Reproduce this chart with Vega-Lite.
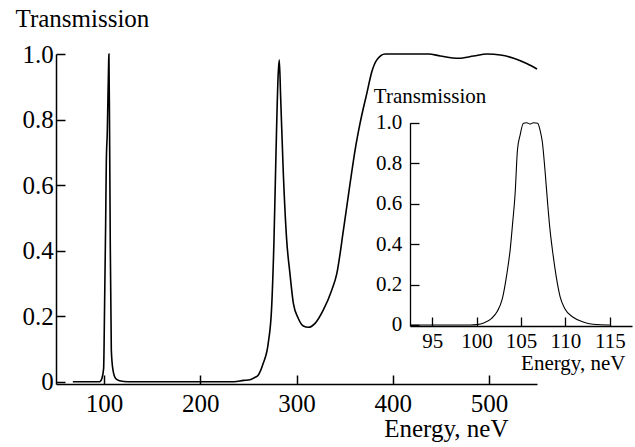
{
  "$schema": "https://vega.github.io/schema/vega-lite/v6.json",
  "width": 481,
  "height": 330,
  "autosize": {"type": "none"},
  "padding": {"left": 56, "top": 54, "right": 98, "bottom": 63},
  "background": "white",
  "config": {
    "view": {"stroke": null},
    "font": "Liberation Serif",
    "axis": {"grid": false, "domainColor": "black", "tickColor": "black", "labelColor": "black", "titleColor": "black", "labelFont": "Liberation Serif", "titleFont": "Liberation Serif", "titleFontWeight": "normal"}
  },
  "datasets": {
    "main": [
      {"E": 67.5, "T": 0.0}, {"E": 95.3, "T": 0.0}, {"E": 97.7, "T": 0.01}, {"E": 99.5, "T": 0.04},
      {"E": 100.5, "T": 0.23}, {"E": 101.6, "T": 0.48}, {"E": 102.3, "T": 0.67}, {"E": 103.3, "T": 0.76},
      {"E": 104.7, "T": 0.97}, {"E": 105.0, "T": 1.0}, {"E": 105.7, "T": 0.76}, {"E": 106.4, "T": 0.43},
      {"E": 107.5, "T": 0.097}, {"E": 109.2, "T": 0.036}, {"E": 112.0, "T": 0.01}, {"E": 116.0, "T": 0.003},
      {"E": 125.0, "T": 0.0}, {"E": 235.0, "T": 0.0}, {"E": 245.0, "T": 0.004}, {"E": 251.6, "T": 0.006},
      {"E": 256.0, "T": 0.012}, {"E": 260.2, "T": 0.02}, {"E": 265.4, "T": 0.056}, {"E": 270.6, "T": 0.117},
      {"E": 274.2, "T": 0.229}, {"E": 276.6, "T": 0.432}, {"E": 278.6, "T": 0.687}, {"E": 281.0, "T": 0.94},
      {"E": 282.1, "T": 0.982}, {"E": 283.5, "T": 0.87}, {"E": 286.3, "T": 0.636}, {"E": 289.8, "T": 0.432},
      {"E": 293.2, "T": 0.33}, {"E": 296.7, "T": 0.24}, {"E": 301.9, "T": 0.193}, {"E": 307.1, "T": 0.17},
      {"E": 312.3, "T": 0.166}, {"E": 319.3, "T": 0.178}, {"E": 327.9, "T": 0.219}, {"E": 336.7, "T": 0.28},
      {"E": 341.9, "T": 0.33}, {"E": 348.8, "T": 0.463}, {"E": 355.7, "T": 0.605}, {"E": 360.9, "T": 0.707},
      {"E": 366.1, "T": 0.789}, {"E": 373.1, "T": 0.88}, {"E": 378.3, "T": 0.946}, {"E": 383.5, "T": 0.982},
      {"E": 392.2, "T": 1.0}, {"E": 414.8, "T": 1.0}, {"E": 437.3, "T": 1.0}, {"E": 449.5, "T": 0.994},
      {"E": 468.5, "T": 0.987}, {"E": 484.2, "T": 0.994}, {"E": 498.1, "T": 1.0}, {"E": 512.0, "T": 0.997},
      {"E": 525.8, "T": 0.987}, {"E": 539.8, "T": 0.97}, {"E": 550.0, "T": 0.954}
    ],
    "inset": [
      {"E": 92.6, "T": 0.0}, {"E": 99.3, "T": 0.0}, {"E": 100.0, "T": 0.002}, {"E": 100.8, "T": 0.01},
      {"E": 101.7, "T": 0.033}, {"E": 102.3, "T": 0.065}, {"E": 102.9, "T": 0.13}, {"E": 103.4, "T": 0.25},
      {"E": 103.8, "T": 0.38}, {"E": 104.05, "T": 0.5}, {"E": 104.34, "T": 0.651}, {"E": 104.6, "T": 0.865},
      {"E": 104.9, "T": 0.939}, {"E": 105.27, "T": 0.997}, {"E": 105.65, "T": 1.0}, {"E": 106.02, "T": 0.993},
      {"E": 106.4, "T": 1.0}, {"E": 106.88, "T": 0.997}, {"E": 107.14, "T": 0.964}, {"E": 107.4, "T": 0.906},
      {"E": 107.7, "T": 0.766}, {"E": 108.0, "T": 0.601}, {"E": 108.2, "T": 0.5}, {"E": 108.6, "T": 0.35},
      {"E": 109.0, "T": 0.23}, {"E": 109.4, "T": 0.14}, {"E": 109.94, "T": 0.08}, {"E": 110.87, "T": 0.038},
      {"E": 112.0, "T": 0.015}, {"E": 113.1, "T": 0.004}, {"E": 114.8, "T": 0.0}, {"E": 115.0, "T": 0.0}
    ]
  },
  "layer": [
    {
      "data": {"name": "main"},
      "mark": {"type": "line", "color": "black", "strokeWidth": 1.6, "interpolate": "monotone"},
      "encoding": {
        "x": {"field": "E", "type": "quantitative",
          "scale": {"domain": [50, 550], "nice": false, "zero": false},
          "axis": {"orient": "bottom", "values": [100, 200, 300, 400, 500], "tickSize": -9, "tickWidth": 1.5, "domainWidth": 1.5,
            "labelFontSize": 25, "labelPadding": 16.7, "labelBaseline": "top", "labelFlush": false,
            "title": "Energy, neV", "titleFontSize": 25, "titleAngle": 0, "titleAlign": "right", "titleBaseline": "alphabetic", "titleX": 452, "titleY": 52.7}},
        "y": {"field": "T", "type": "quantitative",
          "scale": {"domain": [-0.007, 1], "nice": false, "zero": false},
          "axis": {"orient": "left", "values": [0, 0.2, 0.4, 0.6, 0.8, 1.0], "tickSize": -9, "tickWidth": 1.5, "domainWidth": 1.5,
            "labelFontSize": 25, "labelPadding": 11.7, "labelExpr": "datum.value == 0 ? '0' : format(datum.value, '.1f')", "labelFlush": false,
            "title": "Transmission", "titleFontSize": 25, "titleAngle": 0, "titleAlign": "left", "titleBaseline": "alphabetic", "titleX": -41, "titleY": -27.3}}
      }
    },
    {
      "data": {"name": "inset"},
      "mark": {"type": "line", "color": "black", "strokeWidth": 1.1, "interpolate": "monotone"},
      "encoding": {
        "x": {"field": "E", "type": "quantitative",
          "scale": {"domain": [92.5, 117.5], "range": [354, 576], "nice": false, "zero": false},
          "axis": {"orient": "bottom", "offset": -58, "values": [95, 100, 105, 110, 115], "tickSize": -9, "tickWidth": 1.3, "domainWidth": 1.3,
            "labelFontSize": 21, "labelPadding": 13.3, "labelBaseline": "top", "labelFlush": false,
            "title": "Energy, neV", "titleFontSize": 21, "titleAngle": 0, "titleAlign": "right", "titleBaseline": "alphabetic", "titleX": 569, "titleY": 43}},
        "y": {"field": "T", "type": "quantitative",
          "scale": {"domain": [-0.005, 1], "range": [272, 68.7], "nice": false, "zero": false},
          "axis": {"orient": "left", "offset": -354, "values": [0, 0.2, 0.4, 0.6, 0.8, 1.0], "tickSize": -9, "tickWidth": 1.3, "domainWidth": 1.3,
            "labelFontSize": 21, "labelPadding": 17.3, "labelExpr": "datum.value == 0 ? '0' : format(datum.value, '.1f')", "labelFlush": false,
            "title": "Transmission", "titleFontSize": 21, "titleAngle": 0, "titleAlign": "left", "titleBaseline": "alphabetic", "titleX": -36.7, "titleY": 48.7}}
      }
    }
  ],
  "resolve": {"scale": {"x": "independent", "y": "independent"}, "axis": {"x": "independent", "y": "independent"}}
}
